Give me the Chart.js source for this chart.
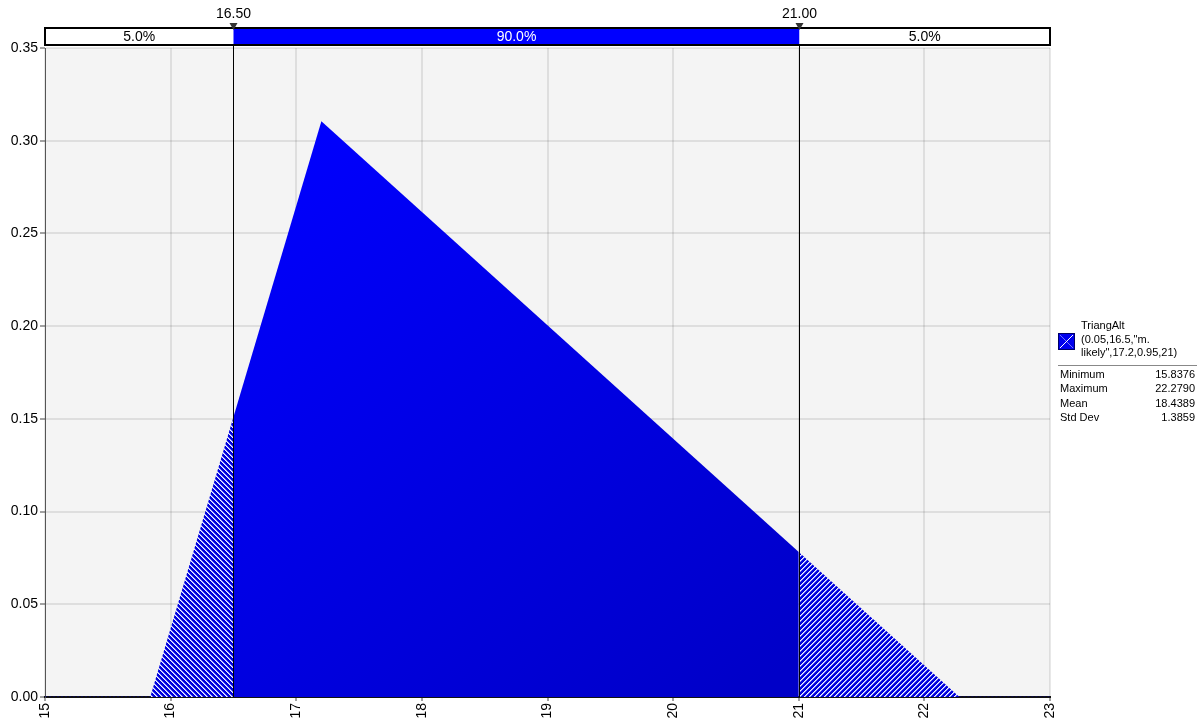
<!DOCTYPE html>
<html><head><meta charset="utf-8">
<script src="https://cdn.jsdelivr.net/npm/chart.js@4.4.1/dist/chart.umd.min.js"></script>
<style>html,body{margin:0;padding:0;background:#fff;}</style>
</head><body>
<canvas id="c" width="1200" height="725"></canvas>
<script>
// ---- data ----
const leftTailX = [15.8376, 16.5];
const leftTailY = [0, 0.151];
const bodyX = [16.5, 17.2, 21];
const bodyY = [0.151, 0.3105, 0.0782];
const rightTailX = [21, 22.279];
const rightTailY = [0.0782, 0];
const baseLeftX = [15, 15.8376];
const baseRightX = [22.279, 23];
const baseY = [0, 0];
const markerValues = [16.5, 21];
const markerLabels = ['16.50', '21.00'];
const bandLabels = ['5.0%', '90.0%', '5.0%'];
const xTickValues = [15, 16, 17, 18, 19, 20, 21, 22, 23];
const yTickValues = [0, 0.05, 0.10, 0.15, 0.20, 0.25, 0.30, 0.35];
const seriesLines = ['TriangAlt', '(0.05,16.5,"m.', 'likely",17.2,0.95,21)'];
const statNames = ['Minimum', 'Maximum', 'Mean', 'Std Dev'];
const statValues = ['15.8376', '22.2790', '18.4389', '1.3859'];

const FONT = '"Liberation Sans", Arial, sans-serif';
Chart.defaults.font.family = FONT;
Chart.defaults.color = '#000';

function pts(xs, ys) { return xs.map((x, i) => ({ x: x, y: ys[i] })); }

function hatch(dir) {
  const n = 5;
  const c = document.createElement('canvas');
  c.width = n; c.height = n;
  const g = c.getContext('2d');
  for (let y = 0; y < n; y++) for (let x = 0; x < n; x++) {
    const v = dir > 0 ? (x + y) % n : ((x - y) % n + n) % n;
    g.fillStyle = v === 0 ? '#f2f3ff' : (v === 1 ? '#8c94ff' : '#0000dd');
    g.fillRect(x, y, 1, 1);
  }
  return g.createPattern(c, 'repeat');
}
const ctx0 = document.getElementById('c').getContext('2d');
const hatchLeft = hatch(-1);
const hatchRight = hatch(1);

const bgPlugin = {
  id: 'bg',
  beforeDraw(chart) {
    const { ctx, chartArea: a } = chart;
    ctx.save();
    ctx.fillStyle = '#f4f4f4';
    ctx.fillRect(a.left, a.top, a.right - a.left, a.bottom - a.top);
    ctx.restore();
  }
};

const overlayPlugin = {
  id: 'overlay',
  afterDraw(chart) {
    const { ctx, chartArea: a } = chart;
    const xs = chart.scales.x;
    const p = markerValues.map(v => Math.round(xs.getPixelForValue(v)) + 0.5);
    ctx.save();
    // vertical marker lines
    ctx.strokeStyle = '#000'; ctx.lineWidth = 1;
    p.forEach(px => { ctx.beginPath(); ctx.moveTo(px, 45); ctx.lineTo(px, a.bottom); ctx.stroke(); });
    // top band
    const top = 28, bot = 45;
    const edges = [a.left, p[0], p[1], a.right];
    const fills = ['#ffffff', '#0000ff', '#ffffff'];
    const tcol = ['#000', '#fff', '#000'];
    ctx.font = '14px ' + FONT;
    ctx.textAlign = 'center'; ctx.textBaseline = 'middle';
    for (let i = 0; i < 3; i++) {
      ctx.fillStyle = fills[i];
      ctx.fillRect(edges[i], top, edges[i + 1] - edges[i], bot - top);
      ctx.fillStyle = tcol[i];
      ctx.fillText(bandLabels[i], (edges[i] + edges[i + 1]) / 2, (top + bot) / 2 + 1);
    }
    ctx.strokeStyle = '#000'; ctx.lineWidth = 2;
    ctx.strokeRect(a.left, top, a.right - a.left, bot - top);
    // markers
    p.forEach((px, i) => {
      ctx.fillStyle = '#333';
      ctx.beginPath(); ctx.moveTo(px - 4, 23); ctx.lineTo(px + 4, 23); ctx.lineTo(px, 30); ctx.closePath(); ctx.fill();
      ctx.fillStyle = '#000';
      ctx.textBaseline = 'middle';
      ctx.fillText(markerLabels[i], px, 14);
    });
    // legend
    const lx = 1058, sy = 333;
    ctx.fillStyle = '#0000ee';
    ctx.fillRect(lx, sy, 17, 17);
    ctx.strokeStyle = '#000066'; ctx.lineWidth = 1;
    ctx.strokeRect(lx + 0.5, sy + 0.5, 16, 16);
    ctx.strokeStyle = 'rgba(255,255,255,0.45)';
    ctx.beginPath(); ctx.moveTo(lx + 2, sy + 2); ctx.lineTo(lx + 15, sy + 15); ctx.stroke();
    ctx.strokeStyle = '#ffffff';
    ctx.beginPath(); ctx.moveTo(lx + 2, sy + 15); ctx.lineTo(lx + 15, sy + 2); ctx.stroke();
    ctx.fillStyle = '#000';
    ctx.font = '11px ' + FONT;
    ctx.textAlign = 'left'; ctx.textBaseline = 'middle';
    seriesLines.forEach((t, i) => ctx.fillText(t, 1081, 326 + i * 13.5));
    ctx.strokeStyle = '#888'; ctx.lineWidth = 1;
    ctx.beginPath(); ctx.moveTo(1058, 365.5); ctx.lineTo(1197, 365.5); ctx.stroke();
    statNames.forEach((t, i) => {
      const y = 375 + i * 14.3;
      ctx.textAlign = 'left'; ctx.fillText(t, 1060, y);
      ctx.textAlign = 'right'; ctx.fillText(statValues[i], 1195, y);
    });
    ctx.restore();
  }
};

new Chart(ctx0, {
  type: 'line',
  data: {
    datasets: [
      { data: pts(leftTailX, leftTailY), fill: 'origin', backgroundColor: hatchLeft, borderWidth: 0, pointRadius: 0, tension: 0 },
      { data: pts(bodyX, bodyY), fill: 'origin', borderWidth: 0, pointRadius: 0, tension: 0,
        backgroundColor: (c) => {
          const a = c.chart.chartArea;
          if (!a) return '#0000e6';
          const g = c.chart.ctx.createLinearGradient(a.left + 250, a.top + 60, a.left + 700, a.bottom);
          g.addColorStop(0, '#0000ff');
          g.addColorStop(1, '#0000c8');
          return g;
        } },
      { data: pts(rightTailX, rightTailY), fill: 'origin', backgroundColor: hatchRight, borderWidth: 0, pointRadius: 0, tension: 0 },
      { data: pts(baseLeftX, baseY), fill: false, borderColor: '#000080', borderWidth: 1, borderDash: [2, 2], pointRadius: 0 },
      { data: pts(baseRightX, baseY), fill: false, borderColor: '#000080', borderWidth: 1, borderDash: [2, 2], pointRadius: 0 }
    ]
  },
  options: {
    responsive: false,
    devicePixelRatio: 1,
    animation: false,
    layout: { padding: { top: 48, right: 150, left: 0, bottom: 0 } },
    plugins: { legend: { display: false }, tooltip: { enabled: false } },
    scales: {
      x: {
        type: 'linear', min: 15, max: 23, z: 1,
        afterBuildTicks: (s) => { s.ticks = xTickValues.map(v => ({ value: v })); },
        afterFit: (s) => { s.height = 28; },
        ticks: { minRotation: 90, maxRotation: 90, autoSkip: false, padding: 2, font: { size: 14 }, color: '#000',
          callback: (v) => String(v) },
        grid: { color: 'rgba(0,0,0,0.09)', lineWidth: 2, tickLength: 4, tickColor: '#444', tickWidth: 1 },
        border: { color: '#111', width: 2 }
      },
      y: {
        type: 'linear', min: 0, max: 0.35, z: 1,
        afterBuildTicks: (s) => { s.ticks = yTickValues.map(v => ({ value: v })); },
        afterFit: (s) => { s.width = 45; },
        ticks: { padding: 2, font: { size: 14 }, color: '#000', callback: (v) => Number(v).toFixed(2) },
        grid: { color: 'rgba(0,0,0,0.09)', lineWidth: 2, tickLength: 5, tickColor: '#444', tickWidth: 1 },
        border: { color: '#555', width: 1 }
      }
    }
  },
  plugins: [bgPlugin, overlayPlugin]
});
</script>
</body></html>
